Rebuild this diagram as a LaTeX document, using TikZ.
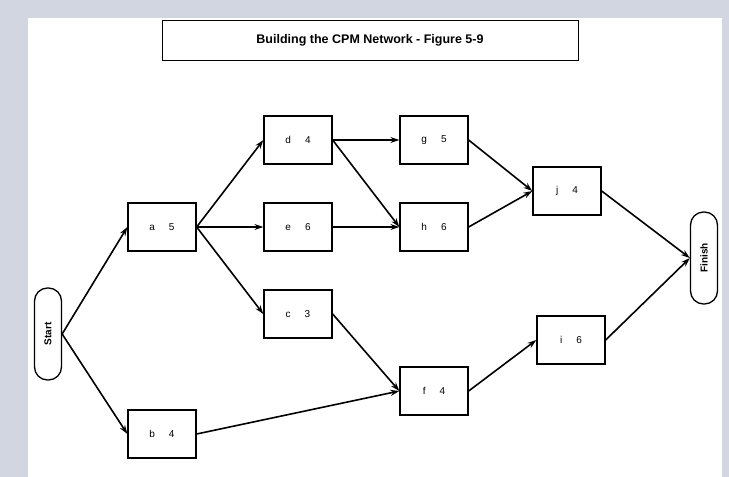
\documentclass[tikz,border=0pt]{standalone}
\usepackage{fontspec}
\setmainfont{Liberation Sans}
\usetikzlibrary{arrows.meta}
\definecolor{frame}{RGB}{210,214,224}

\begin{document}
\begin{tikzpicture}[x=1pt,y=-1pt,
  task/.style={draw,line width=1.3pt,minimum width=68pt,minimum height=48pt,
    font=\fontsize{10}{12}\selectfont},
  endpt/.style={draw,line width=1.3pt,rounded corners=13pt,minimum width=92pt,
    minimum height=27pt,rotate=90,font=\bfseries\fontsize{10}{12}\selectfont},
  link/.style={line width=1.6pt,-{Stealth[length=9pt,width=6pt]}}]
% page
\fill[frame] (0,0) rectangle (729,477);
\fill[white] (28,18) rectangle (722,477);
\useasboundingbox (0,0) rectangle (729,477);
\node[draw,line width=0.8pt,minimum width=416pt,minimum height=40pt,
  font=\bfseries\fontsize{12.5}{14}\selectfont] (title) at (370,40)
  {Building the CPM Network - Figure 5-9};
% activities
\node[endpt] (start) at (48,334) {Start};
\node[task] (a) at (162,227) {a\hspace{14pt}5};
\node[task] (b) at (162,434) {b\hspace{14pt}4};
\node[task] (d) at (298,140) {d\hspace{14pt}4};
\node[task] (e) at (298,227) {e\hspace{14pt}6};
\node[task] (c) at (298,314) {c\hspace{14pt}3};
\node[task] (g) at (434,140) {g\hspace{14pt}5};
\node[task] (h) at (434,227) {h\hspace{14pt}6};
\node[task] (f) at (434,391) {f\hspace{14pt}4};
\node[task] (j) at (567,191) {j\hspace{14pt}4};
\node[task] (i) at (571,340) {i\hspace{14pt}6};
\node[endpt] (finish) at (704,258) {Finish};
% precedence
\draw[link] (start.south) -- (a.west);
\draw[link] (start.south) -- (b.west);
\draw[link] (a.east) -- (d.west);
\draw[link] (a.east) -- (e.west);
\draw[link] (a.east) -- (c.west);
\draw[link] (d.east) -- (g.west);
\draw[link] (d.east) -- (h.west);
\draw[link] (e.east) -- (h.west);
\draw[link] (g.east) -- (j.west);
\draw[link] (h.east) -- (j.west);
\draw[link] (c.east) -- (f.west);
\draw[link] (b.east) -- (f.west);
\draw[link] (f.east) -- (i.west);
\draw[link] (j.east) -- (finish.north);
\draw[link] (i.east) -- (finish.north);
\end{tikzpicture}
\end{document}
